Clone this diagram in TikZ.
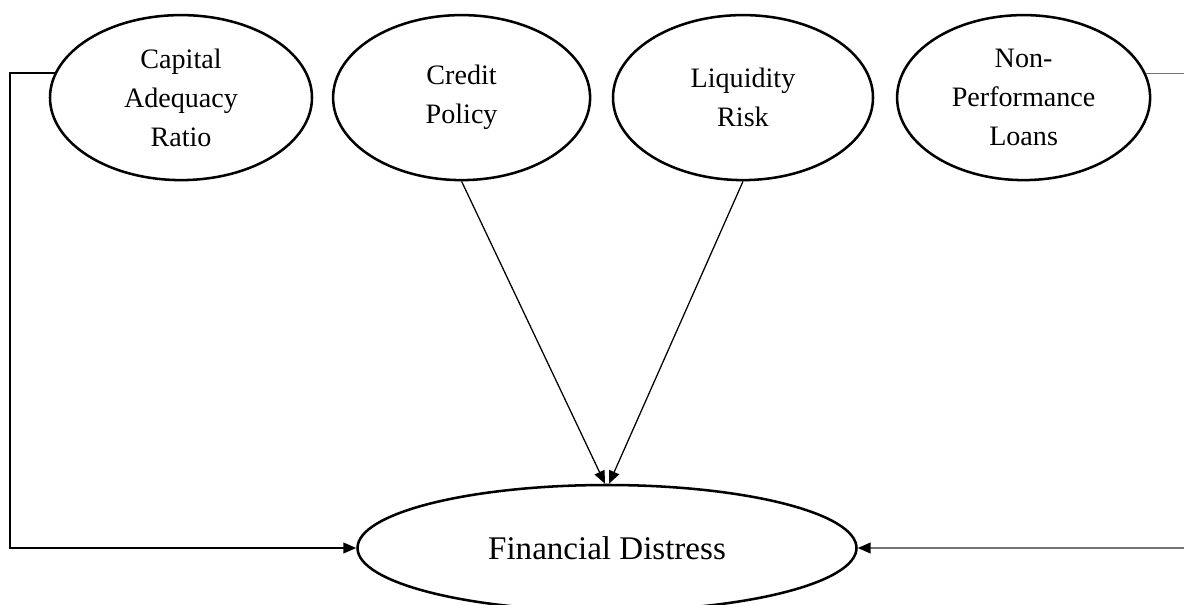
\documentclass[tikz,border=0pt]{standalone}
\usepackage{fontspec}
\setmainfont{Liberation Serif}
\usetikzlibrary{shapes.geometric,arrows.meta}

\begin{document}
\begin{tikzpicture}[
    factor/.style={ellipse,draw,line width=1.8pt,inner sep=0pt,align=center,
      minimum height=4.125cm,font=\fontsize{20}{27.7}\selectfont},
    link/.style={line width=0.9pt,-{Triangle[length=0.32cm,width=0.27cm]}}]
  \useasboundingbox (0,0) rectangle (29.6,-15.1);
  % predictors
  \node[factor,minimum width=6.55cm]  (car) at (4.525,-2.44)  {Capital\\Adequacy\\Ratio};
  \node[factor,minimum width=6.425cm] (cp)  at (11.54,-2.44)  {Credit\\Policy};
  \node[factor,minimum width=6.5cm]   (lr)  at (18.575,-2.44) {Liquidity\\Risk};
  \node[factor,minimum width=6.325cm] (npl) at (25.59,-2.44)  {Non-\\Performance\\Loans};
  % outcome
  \node[ellipse,draw,line width=1.8pt,inner sep=0pt,minimum width=12.475cm,
    minimum height=3.15cm,font=\fontsize{23.5}{28}\selectfont] (fd) at (15.175,-13.7) {Financial Distress};
  \coordinate (lc) at (0.25,-13.7);
  \coordinate (rc) at (29.75,-13.7);
  \draw[link] (cp.south) -- ([xshift=-0.05cm]fd.north);
  \draw[link] (lr.south) -- ([xshift=0.05cm]fd.north);
  \draw[link] (car.169) -| (lc) -- (fd.west);
  \draw[link,draw=black!55,-{Triangle[length=0.32cm,width=0.27cm,color=black]}] (npl.11) -| (rc) -- (fd.east);
\end{tikzpicture}
\end{document}
